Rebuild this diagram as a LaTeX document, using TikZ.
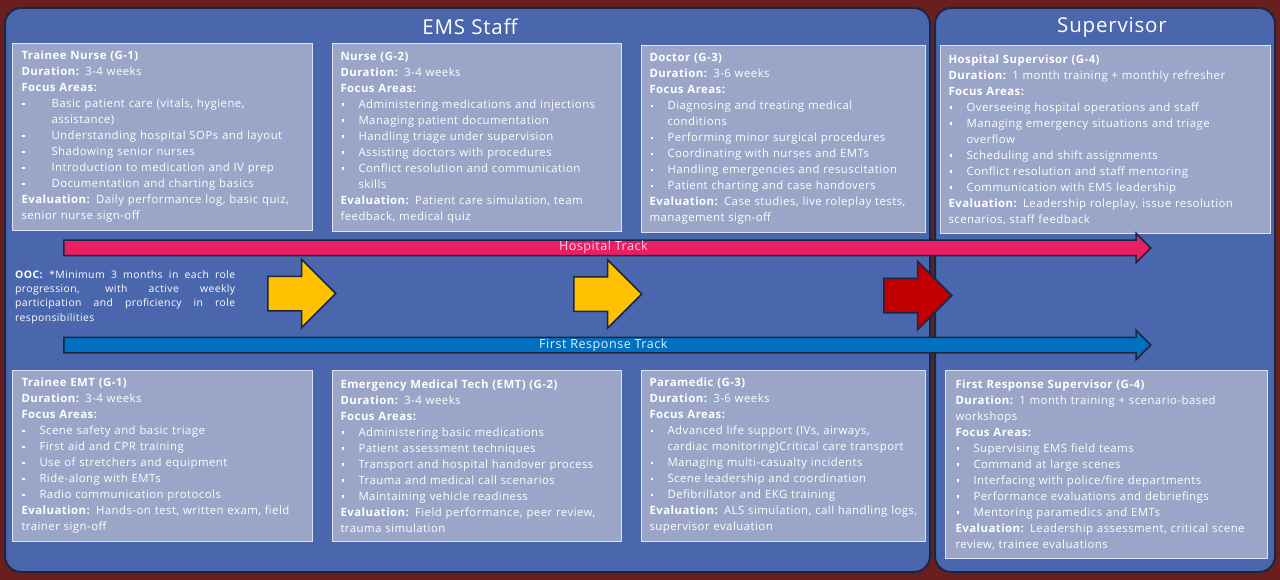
\documentclass[tikz,border=0pt]{standalone}
\usepackage{fontspec}
\setmainfont{Open Sans}[LetterSpace=4]
\usetikzlibrary{shapes.arrows,positioning}
\definecolor{bgmaroon}{HTML}{6A1F1F}
\definecolor{panelblue}{HTML}{4A66AC}
\definecolor{panelline}{HTML}{1B2640}
\definecolor{boxfill}{HTML}{9AA5C8}
\definecolor{boxline}{HTML}{DCE3F2}
\definecolor{hosppink}{HTML}{E91E63}
\definecolor{hosptext}{HTML}{FFD6E6}
\definecolor{frblue}{HTML}{0070C0}
\definecolor{frtext}{HTML}{E2F0FF}
\definecolor{stepyellow}{HTML}{FFC000}
\definecolor{stepred}{HTML}{C00000}
\setlength{\parindent}{0pt}
% bullet line with hanging indent
\newcommand{\itm}[2][18pt]{\par\hangindent=#1\hangafter=1\noindent\makebox[#1][l]{\hspace{1pt}\raisebox{2.5pt}{\rule{2.6pt}{2.6pt}}}#2}

\begin{document}
\begin{tikzpicture}[x=1pt, y=-1pt,
    panel/.style={draw=panelline, line width=2pt, fill=panelblue, rounded corners=16pt},
    paneltitle/.style={text=white, font=\fontsize{20.5}{24}\selectfont},
    role/.style={draw=boxline, line width=1pt, fill=boxfill, text=white, anchor=north west, align=left, inner xsep=8pt, font=\fontsize{11.4}{16}\selectfont},
    track/.style={single arrow, draw=panelline, line width=1.5pt, anchor=tail, minimum height=1087pt, minimum width=28pt, single arrow head extend=7pt, inner ysep=2pt, text height=8pt, text depth=2pt, font=\fontsize{12.6}{12}\selectfont},
    stepblock/.style={single arrow, draw=panelline, line width=1.5pt, anchor=tail, minimum height=68pt, minimum width=68pt, single arrow head extend=17pt, inner xsep=0pt, inner ysep=16.5pt, text height=0pt, text depth=0pt},
    ooc/.style={text=white, anchor=north west, align=justify, text width=220pt, inner sep=0pt, font=\fontsize{10.4}{14.4}\selectfont}
]
% background and panels
\fill[bgmaroon] (0,0) rectangle (1280,580);
\draw[panel] (5,8) rectangle (930,572);
\draw[panel] (935,8) rectangle (1275,572);
\node[paneltitle] (emstitle) at (470,27) {EMS Staff};
\node[paneltitle] (suptitle) at (1112,27) {Supervisor};

% Hospital track roles
\node[role, text width=282pt, minimum height=187pt, inner xsep=9pt] (tnurse) at (12,43) {%
\textbf{Trainee Nurse (G-1)}\par
\textbf{Duration:} 3-4 weeks\par
\textbf{Focus Areas:}
\itm[30pt]{Basic patient care (vitals, hygiene,\newline assistance)}
\itm[30pt]{Understanding hospital SOPs and layout}
\itm[30pt]{Shadowing senior nurses}
\itm[30pt]{Introduction to medication and IV prep}
\itm[30pt]{Documentation and charting basics}\par
\textbf{Evaluation:} Daily performance log, basic quiz,\newline senior nurse sign-off};

\node[role, text width=273pt, minimum height=188pt] (nurse) at (332,43) {%
\textbf{Nurse (G-2)}\par
\textbf{Duration:} 3-4 weeks\par
\textbf{Focus Areas:}
\itm{Administering medications and injections}
\itm{Managing patient documentation}
\itm{Handling triage under supervision}
\itm{Assisting doctors with procedures}
\itm{Conflict resolution and communication\newline skills}\par
\textbf{Evaluation:} Patient care simulation, team\newline feedback, medical quiz};

\node[role, text width=268pt, minimum height=187pt] (doctor) at (641,45) {%
\textbf{Doctor (G-3)}\par
\textbf{Duration:} 3-6 weeks\par
\textbf{Focus Areas:}
\itm{Diagnosing and treating medical\newline conditions}
\itm{Performing minor surgical procedures}
\itm{Coordinating with nurses and EMTs}
\itm{Handling emergencies and resuscitation}
\itm{Patient charting and case handovers}\par
\textbf{Evaluation:} Case studies, live roleplay tests,\newline management sign-off};

\node[role, text width=314pt, minimum height=188pt] (hospsup) at (940,45) {%
\textbf{Hospital Supervisor (G-4)}\par
\textbf{Duration:} 1 month training + monthly refresher\par
\textbf{Focus Areas:}
\itm{Overseeing hospital operations and staff}
\itm{Managing emergency situations and triage\newline overflow}
\itm{Scheduling and shift assignments}
\itm{Conflict resolution and staff mentoring}
\itm{Communication with EMS leadership}\par
\textbf{Evaluation:} Leadership roleplay, issue resolution\newline scenarios, staff feedback};

% First response track roles
\node[role, text width=282pt, minimum height=171pt, inner xsep=9pt] (temt) at (12,370) {%
\textbf{Trainee EMT (G-1)}\par
\textbf{Duration:} 3-4 weeks\par
\textbf{Focus Areas:}
\itm{Scene safety and basic triage}
\itm{First aid and CPR training}
\itm{Use of stretchers and equipment}
\itm{Ride-along with EMTs}
\itm{Radio communication protocols}\par
\textbf{Evaluation:} Hands-on test, written exam, field\newline trainer sign-off};

\node[role, text width=273pt, minimum height=171pt] (emt) at (332,370) {%
\textbf{Emergency Medical Tech (EMT) (G-2)}\par
\textbf{Duration:} 3-4 weeks\par
\textbf{Focus Areas:}
\itm{Administering basic medications}
\itm{Patient assessment techniques}
\itm{Transport and hospital handover process}
\itm{Trauma and medical call scenarios}
\itm{Maintaining vehicle readiness}\par
\textbf{Evaluation:} Field performance, peer review,\newline trauma simulation};

\node[role, text width=268pt, minimum height=171pt] (paramedic) at (641,370) {%
\textbf{Paramedic (G-3)}\par
\textbf{Duration:} 3-6 weeks\par
\textbf{Focus Areas:}
\itm{Advanced life support (IVs, airways,\newline cardiac monitoring)Critical care transport}
\itm{Managing multi-casualty incidents}
\itm{Scene leadership and coordination}
\itm{Defibrillator and EKG training}\par
\textbf{Evaluation:} ALS simulation, call handling logs,\newline supervisor evaluation};

\node[role, text width=302pt, minimum height=188pt, inner xsep=10pt] (frsup) at (945,370) {%
\textbf{First Response Supervisor (G-4)}\par
\textbf{Duration:} 1 month training + scenario-based\newline workshops\par
\textbf{Focus Areas:}
\itm{Supervising EMS field teams}
\itm{Command at large scenes}
\itm{Interfacing with police/fire departments}
\itm{Performance evaluations and debriefings}
\itm{Mentoring paramedics and EMTs}\par
\textbf{Evaluation:} Leadership assessment, critical scene\newline review, trainee evaluations};

% tracks
\node[track, fill=hosppink, text=hosptext] (hosptrack) at (63,248) {Hospital Track};
\node[track, fill=frblue, text=frtext] (frtrack) at (63,345) {First Response Track};

% progression arrows
\node[stepblock, fill=stepyellow] (stepone) at (267,293.5) {};
\node[stepblock, fill=stepyellow] (steptwo) at (573,294) {};
\node[stepblock, fill=stepred] (stepthree) at (883,295.5) {};

\node[ooc] (oocnote) at (15,270) {\textbf{OOC:} *Minimum 3 months in each role\linebreak progression, with active weekly\linebreak participation and proficiency in role\linebreak responsibilities};
\end{tikzpicture}
\end{document}
